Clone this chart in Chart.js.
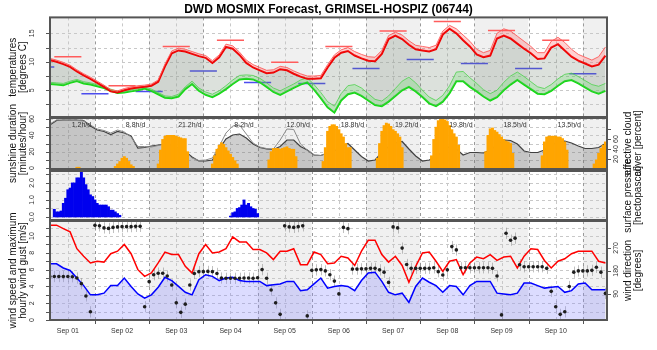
<!DOCTYPE html>
<html>
<head>
<meta charset="utf-8">
<script src="https://cdn.jsdelivr.net/npm/chart.js@4.4.1/dist/chart.umd.min.js"></script>
<style>
  body { margin: 0; background: #fff; }
  #wrap { position: relative; width: 657px; height: 350px; }
  #wrap canvas { position: absolute; left: 0; top: 0; }
</style>
</head>
<body>
<div id="wrap">
  <canvas id="c-temp" width="657" height="350"></canvas>
  <canvas id="c-sun" width="657" height="350"></canvas>
  <canvas id="c-rain" width="657" height="350"></canvas>
  <canvas id="c-wind" width="657" height="350"></canvas>
</div>
<script>
const FONT = '"Liberation Sans", Arial, Helvetica, sans-serif';
Chart.defaults.font.family = FONT;

// time axis: hours after Sep 01 00:00
const hourMin = 4.1;
const hourMax = 250.7;
const dayLabels = ['Sep 01', 'Sep 02', 'Sep 03', 'Sep 04', 'Sep 05', 'Sep 06', 'Sep 07', 'Sep 08', 'Sep 09', 'Sep 10'];

// sample times of the line series (every 3 h) and of wind direction (every 2 h)
const lineHours = [];
for (let h = 4; h <= 250; h += 3) lineHours.push(h);
const dirHours = [];
for (let h = 4; h <= 250; h += 2) dirHours.push(h);

// temperatures [degrees C]
const tempMax = [10.3,10.0,9.6,9.1,8.3,7.6,7.0,6.3,5.6,4.8,
  4.6,5.0,5.3,5.5,5.6,5.8,6.5,9.2,11.5,12.0,
  11.8,11.4,11.0,10.7,9.8,10.8,12.6,12.3,11.2,9.8,
  9.0,8.5,8.0,8.1,8.7,8.5,7.9,7.4,7.0,7.0,
  7.1,9.0,10.7,11.6,11.9,11.1,10.6,10.2,10.1,11.4,
  14.0,14.6,14.0,13.0,12.2,12.0,11.8,12.2,14.8,15.8,
  15.0,13.8,12.7,11.3,10.8,11.1,14.1,14.6,14.1,13.2,
  12.3,11.5,10.5,10.6,12.5,13.1,12.0,10.9,10.2,9.7,
  9.2,9.5,11.1];
const tempMaxHi = [10.6,10.3,9.9,9.4,8.6,7.9,7.3,6.6,5.9,5.1,
  4.9,5.3,5.6,5.8,5.9,6.1,6.8,9.6,11.9,12.4,
  12.2,11.8,11.4,11.1,10.2,11.2,13.1,12.8,11.7,10.3,
  9.5,9.0,8.5,8.6,9.2,9.0,8.4,7.9,7.5,7.5,
  7.6,9.5,11.2,12.1,12.5,11.8,11.3,10.9,10.8,12.0,
  14.6,15.2,14.7,13.7,12.9,12.7,12.5,12.9,15.4,16.4,
  15.8,14.7,13.6,12.2,11.6,12.0,15.0,15.8,15.4,14.5,
  13.6,12.7,11.6,11.6,13.6,14.3,13.4,12.2,11.3,10.8,
  10.3,10.9,12.6];
const tempMin = [6.1,6.0,5.9,6.3,6.6,6.2,6.0,5.7,5.4,4.9,
  4.5,4.6,4.8,5.0,5.3,4.9,4.3,3.7,3.6,3.9,
  5.2,6.1,4.9,4.2,3.8,4.4,5.2,6.1,6.9,7.0,
  6.9,6.4,5.6,4.7,4.2,4.8,5.4,6.0,6.4,5.1,
  3.6,2.0,1.1,3.2,4.3,4.6,4.0,3.2,2.4,2.2,
  3.0,4.0,5.0,5.6,4.8,3.8,2.7,2.2,3.0,4.5,
  6.6,6.6,5.6,4.8,3.9,3.2,3.8,5.0,6.0,6.8,
  6.0,5.2,4.4,4.3,4.9,5.8,6.6,6.8,6.2,5.5,
  4.8,4.4,4.9];
const tempMinHi = [6.4,6.3,6.2,6.6,6.9,6.5,6.3,6.0,5.7,5.2,
  4.8,4.9,5.1,5.3,5.6,5.2,4.6,4.0,3.9,4.3,
  5.6,6.6,5.4,4.7,4.3,4.9,5.8,6.8,7.6,7.7,
  7.6,7.1,6.3,5.4,4.9,5.5,6.1,6.8,7.2,6.0,
  4.6,3.0,2.2,4.4,5.8,6.0,5.4,4.4,3.4,3.1,
  4.0,5.3,6.6,7.3,6.3,5.0,3.8,3.2,4.1,5.8,
  8.2,8.3,7.2,6.2,5.1,4.4,5.0,6.4,7.5,8.2,
  7.4,6.5,5.6,5.3,6.0,7.0,7.8,8.0,7.4,6.7,
  6.0,5.7,6.2];
// daytime maximum (06-18) and night minimum (18-06)
const dayMax = [10.9, 5.8, 12.7, 13.8, 9.9, 12.7, 15.4, 17.1, 15.5, 13.8];
const nightMin = [9.1, 4.4, 4.8, 8.4, 6.35, 6.2, 8.8, 10.4, 9.7, 8.8, 7.9];

// sunshine [minutes/hour], hourly runs starting at sunStart
const sunStart = [16, 33, 52, 76, 101, 125, 149, 173, 197, 222, 245];
const sunRuns = [
  [1, 1],
  [2, 5, 8, 12, 14, 12, 8, 4, 2],
  [5, 22, 35, 39, 40, 40, 40, 40, 39, 38, 37, 36, 36, 20],
  [5, 15, 23, 28, 31, 29, 25, 21, 17, 13, 9, 5],
  [10, 20, 24, 24, 24, 23, 24, 25, 26, 24, 23, 23, 14],
  [8, 25, 45, 51, 53, 53, 51, 47, 42, 38, 30, 25, 25],
  [12, 30, 45, 52, 55, 54, 51, 47, 45, 42, 38, 25],
  [15, 35, 50, 58, 60, 60, 59, 57, 52, 47, 42, 38, 28],
  [20, 40, 48, 49, 46, 44, 41, 38, 35, 33, 32, 30, 18],
  [15, 32, 38, 39, 39, 39, 39, 38, 38, 36, 32, 22],
  [5, 10, 18, 24, 28, 32]
];
const sunDaily = ['1.2h/d', '8.8h/d', '21.2h/d', '8.2h/d', '12.0h/d', '18.8h/d', '19.2h/d', '19.8h/d', '18.5h/d', '13.5h/d'];
// effective cloud cover [percent]
const cloud = [88,97,98,98,98,97,86,78,75,69,
  75,72,66,42,43,46,48,50,48,42,
  35,24,16,16,18,40,60,68,70,62,
  50,43,40,39,45,58,58,45,38,28,
  27,32,36,45,51,38,25,16,18,33,
  45,52,55,40,26,16,18,25,35,45,
  40,28,33,33,32,38,48,58,57,50,
  36,33,33,38,48,55,56,52,46,41,
  41,43,51];
const cloud2 = [90,98,98,98,97,96,88,80,77,72,
  78,74,64,45,45,44,47,50,48,42,
  35,22,17,18,22,45,72,86,88,70,
  52,44,41,40,58,80,79,50,38,28,
  27,32];

// precipitation [mm/h]
const rainStart = [6, 84];
const rainRuns = [
  [0.45,0.3,0.3,0.35,0.8,1.1,1.6,1.7,2.0,2.0,2.3,2.3,2.65,2.3,1.9,1.6,1.3,1.2,1.0,0.8,0.7,0.7,0.7,0.7,0.6,0.4,0.4,0.3,0.2,0.1],
  [0.05,0.25,0.3,0.5,0.55,0.7,1.0,0.7,0.8,0.6,0.5,0.45,0.2]
];

// wind [m/s] and direction [degrees]
const windGust = [11.3,11.3,10.9,10.5,8.5,7.6,6.8,7.0,6.9,7.9,
  8.2,9.0,7.9,6.0,5.2,5.6,6.8,8.1,7.8,7.8,
  6.4,5.6,7.9,9.0,8.0,8.1,8.5,9.9,9.3,9.3,
  8.4,8.4,8.0,7.2,8.2,8.2,8.5,6.6,6.6,8.1,
  7.8,6.7,6.8,7.6,7.4,6.5,8.2,9.5,9.5,7.8,
  6.9,7.6,6.5,4.5,6.4,8.0,8.1,7.0,5.8,7.0,
  7.2,5.4,6.8,7.5,7.3,7.8,7.1,7.5,7.6,6.2,
  7.6,8.5,8.4,7.1,6.2,7.0,7.3,7.9,8.2,8.2,
  8.2,7.0,6.8];
const windSpeed = [6.7,6.7,6.2,5.9,5.0,4.1,3.0,3.0,3.2,4.1,
  4.1,5.0,4.0,3.1,2.6,3.0,3.9,5.1,4.7,4.0,
  3.3,3.0,4.8,5.4,5.2,4.7,5.0,5.1,4.7,4.6,
  4.6,4.6,4.1,4.2,4.3,4.6,4.6,3.5,3.6,4.3,
  5.0,3.8,4.0,4.1,4.0,3.5,4.7,5.6,5.7,4.6,
  3.3,3.0,3.2,2.1,4.0,5.0,4.5,4.1,3.3,4.1,
  4.0,3.0,4.1,4.6,4.6,4.6,3.2,3.1,3.0,3.2,
  4.4,4.4,4.1,3.8,3.9,4.0,3.3,3.5,4.3,4.4,
  3.6,3.6,3.6];
const windDir = [158,158,158,158,158,157,152,130,82,20,
  358,356,348,346,350,352,353,353,353,354,
  354,40,138,165,171,171,160,125,55,18,
  50,125,170,177,177,178,177,170,152,151,
  151,151,151,152,152,151,153,185,151,105,
  55,10,356,352,350,353,356,4,182,184,
  185,180,165,140,90,350,345,187,187,188,
  188,190,190,184,175,135,352,348,269,205,
  190,190,190,190,190,192,177,164,184,275,
  262,192,192,192,192,192,192,192,190,160,
  8,327,300,308,204,196,196,196,196,196,
  190,100,40,10,20,119,175,180,180,180,
  182,194,175,92];

// tick labels
const tempTicks = [5, 10, 15];
const sunTicks = [0, 20, 40, 60];
const rainTicks = [0, 1, 2];
const rainTickText = ['0.0', '1.0', '2.0'];
const windTicks = [0, 2, 4, 6, 8, 10];
const cloudTicks = [20, 40, 60];
const dirTicks = [90, 180, 270];

const pts = (xs, ys) => ys.map((v, i) => ({x: xs[i], y: v}));
const runPts = (starts, runs) => starts.flatMap((s, k) => runs[k].map((v, i) => ({x: s + i, y: v})));
const segPts = (vals, from) => vals.flatMap((v, d) => [
  {x: 24 * d + from, y: v}, {x: 24 * d + from + 12, y: v}, {x: 24 * d + from + 12, y: null}
]);

// per panel decoration settings (grid, ticks, titles)
const decorFor = {
  'c-temp': {grid: [2.5, 5, 7.5, 10, 12.5, 15], ticks: tempTicks, tickText: tempTicks.map(String),
    title: ['temperatures', '[degrees C]']},
  'c-sun': {grid: [0, 10, 20, 30, 40, 50, 60], ticks: sunTicks, tickText: sunTicks.map(String),
    title: ['sunshine duration', '[minutes/hour]'], rAxis: 'yc', rGrid: [20, 40, 60, 80],
    rTicks: cloudTicks, rTitle: ['effective cloud', 'cover [percent]'], dayText: true},
  'c-rain': {grid: [0, 0.5, 1, 1.5, 2, 2.5], ticks: rainTicks, tickText: rainTickText,
    rTitle: ['surface pressure', '[hectopascal]']},
  'c-wind': {grid: [0, 1, 2, 3, 4, 5, 6, 7, 8, 9, 10, 11], ticks: windTicks, tickText: windTicks.map(String),
    title: ['wind speed and maximum', 'hourly wind gust [m/s]'], rAxis: 'yd', rGrid: dirTicks,
    rTicks: dirTicks, rTitle: ['wind direction', '[degrees]'], whiskers: true, xLabels: true}
};

function vText(ctx, text, x, y) {
  ctx.save();
  ctx.translate(x, y);
  ctx.rotate(-Math.PI / 2);
  ctx.fillText(text, 0, 0);
  ctx.restore();
}

const panelDecor = {
  id: 'panelDecor',
  beforeDraw(chart) {
    const cfg = decorFor[chart.canvas.id];
    const {ctx, chartArea: a} = chart;
    const xs = chart.scales.x, ys = chart.scales.y;
    ctx.save();
    ctx.beginPath();
    ctx.rect(a.left, a.top, a.right - a.left, a.bottom - a.top);
    ctx.clip();
    // alternating day background
    for (let d = 0; d <= 10; d++) {
      const x0 = xs.getPixelForValue(d * 24), x1 = xs.getPixelForValue(d * 24 + 24);
      ctx.fillStyle = d % 2 === 0 ? '#f0f0f0' : '#ffffff';
      ctx.fillRect(x0, a.top, x1 - x0, a.bottom - a.top);
    }
    ctx.lineWidth = 1;
    ctx.setLineDash([3, 3]);
    ctx.strokeStyle = '#c8c8c8';
    cfg.grid.forEach(v => {
      const py = Math.round(ys.getPixelForValue(v)) + 0.5;
      ctx.beginPath(); ctx.moveTo(a.left, py); ctx.lineTo(a.right, py); ctx.stroke();
    });
    for (let h = 12; h < 252; h += 12) {
      const px = Math.round(xs.getPixelForValue(h)) + 0.5;
      ctx.strokeStyle = h % 24 === 0 ? '#9a9a9a' : '#c8c8c8';
      ctx.beginPath(); ctx.moveTo(px, a.top); ctx.lineTo(px, a.bottom); ctx.stroke();
    }
    if (cfg.whiskers) {
      const yd = chart.scales.yd;
      ctx.setLineDash([]);
      ctx.strokeStyle = 'rgba(140,140,140,0.55)';
      dirHours.forEach((h, i) => {
        const px = Math.round(xs.getPixelForValue(h)) + 0.5;
        ctx.beginPath();
        ctx.moveTo(px, yd.getPixelForValue(windDir[i] - 22));
        ctx.lineTo(px, yd.getPixelForValue(windDir[i] + 22));
        ctx.stroke();
      });
    }
    ctx.restore();
  },
  afterDraw(chart) {
    const cfg = decorFor[chart.canvas.id];
    const {ctx, chartArea: a} = chart;
    const xs = chart.scales.x, ys = chart.scales.y;
    ctx.save();
    ctx.strokeStyle = '#555';
    ctx.lineWidth = 2;
    ctx.strokeRect(a.left, a.top, a.right - a.left, a.bottom - a.top);

    ctx.lineWidth = 1;
    ctx.strokeStyle = '#555';
    ctx.fillStyle = '#333';
    ctx.font = '7px ' + FONT;
    ctx.textAlign = 'center';
    ctx.textBaseline = 'middle';
    cfg.grid.forEach(v => {
      const py = Math.round(ys.getPixelForValue(v)) + 0.5;
      ctx.beginPath(); ctx.moveTo(a.left - 4, py); ctx.lineTo(a.left, py); ctx.stroke();
    });
    cfg.ticks.forEach((v, i) => vText(ctx, cfg.tickText[i], a.left - 18, ys.getPixelForValue(v)));
    if (cfg.rAxis) {
      const rs = chart.scales[cfg.rAxis];
      cfg.rGrid.forEach(v => {
        const py = Math.round(rs.getPixelForValue(v)) + 0.5;
        ctx.beginPath(); ctx.moveTo(a.right, py); ctx.lineTo(a.right + 4, py); ctx.stroke();
      });
      cfg.rTicks.forEach(v => vText(ctx, String(v), a.right + 9, rs.getPixelForValue(v)));
    }
    if (cfg.dayText) {
      sunDaily.forEach((t, d) => ctx.fillText(t, xs.getPixelForValue(24 * d + 18), a.top + 7));
    }
    if (cfg.xLabels) {
      for (let d = 1; d <= 10; d++) {
        const px = Math.round(xs.getPixelForValue(24 * d)) + 0.5;
        ctx.beginPath(); ctx.moveTo(px, a.bottom); ctx.lineTo(px, a.bottom + 4); ctx.stroke();
      }
      dayLabels.forEach((t, d) => ctx.fillText(t, xs.getPixelForValue(24 * d + 12), a.bottom + 11));
    }
    ctx.font = '10px ' + FONT;
    ctx.fillStyle = '#111';
    const cy = (a.top + a.bottom) / 2;
    if (cfg.title) cfg.title.forEach((t, i) => vText(ctx, t, 13 + i * 10, cy));
    if (cfg.rTitle) cfg.rTitle.forEach((t, i) => vText(ctx, t, a.right + 21 + i * 10, cy));
    ctx.restore();
  }
};

function baseOptions(top, bottom) {
  return {
    animation: false,
    responsive: false,
    devicePixelRatio: 1,
    events: [],
    layout: {padding: {left: 50, right: 50, top: top, bottom: 350 - bottom}},
    elements: {point: {radius: 0}, line: {tension: 0}},
    plugins: {legend: {display: false}, tooltip: {enabled: false}}
  };
}

// temperatures
const tempOpts = baseOptions(0, 117);
tempOpts.plugins.title = {
  display: true, text: 'DWD MOSMIX Forecast, GRIMSEL-HOSPIZ (06744)', color: '#000',
  font: {size: 12, weight: 'bold'}, padding: {top: 2, bottom: 1}
};
tempOpts.scales = {
  x: {type: 'linear', min: hourMin, max: hourMax, display: false},
  y: {min: 0.3, max: 17.8, display: false}
};
new Chart(document.getElementById('c-temp'), {
  type: 'line',
  data: {datasets: [
    {data: pts(lineHours, tempMaxHi), borderColor: 'rgba(255,90,90,0.9)', borderWidth: 1,
      fill: {target: 1, above: 'rgba(255,70,70,0.25)', below: 'rgba(255,70,70,0.25)'}},
    {data: pts(lineHours, tempMax), borderColor: '#ee0000', borderWidth: 2,
      fill: {target: 3, above: 'rgba(110,130,110,0.24)', below: 'rgba(110,130,110,0.24)'}},
    {data: pts(lineHours, tempMinHi), borderColor: 'rgba(70,235,70,0.8)', borderWidth: 1,
      fill: {target: 3, above: 'rgba(90,255,90,0.25)', below: 'rgba(90,255,90,0.25)'}},
    {data: pts(lineHours, tempMin), borderColor: '#11dd11', borderWidth: 2},
    {data: segPts(dayMax, 6), borderColor: '#ff5c5c', borderWidth: 1.5},
    {data: segPts(nightMin, -6), borderColor: '#4c4cee', borderWidth: 1.5}
  ]},
  options: tempOpts,
  plugins: [panelDecor]
});

// sunshine and cloud cover
const sunOpts = baseOptions(118, 169);
sunOpts.scales = {
  x: {type: 'linear', min: hourMin, max: hourMax, offset: false, display: false},
  y: {min: -1.2, max: 61.2, display: false},
  yc: {min: 0, max: 102, position: 'right', display: false}
};
new Chart(document.getElementById('c-sun'), {
  type: 'line',
  data: {datasets: [
    {type: 'bar', data: runPts(sunStart, sunRuns), backgroundColor: '#ffa500', borderWidth: 0,
      barPercentage: 1, categoryPercentage: 1, order: 0},
    {data: pts(lineHours, cloud2), yAxisID: 'yc', borderColor: '#8a8a8a', borderWidth: 1, order: 1},
    {data: pts(lineHours, cloud), yAxisID: 'yc', borderColor: '#404040', borderWidth: 1.2,
      fill: 'start', backgroundColor: 'rgba(110,110,110,0.33)', order: 2}
  ]},
  options: sunOpts,
  plugins: [panelDecor]
});

// precipitation
const rainOpts = baseOptions(171, 220);
rainOpts.scales = {
  x: {type: 'linear', min: hourMin, max: hourMax, offset: false, display: false},
  y: {min: -0.18, max: 2.7, display: false}
};
new Chart(document.getElementById('c-rain'), {
  type: 'bar',
  data: {datasets: [
    {data: runPts(rainStart, rainRuns), backgroundColor: '#0000ee', borderWidth: 0,
      barPercentage: 1, categoryPercentage: 1}
  ]},
  options: rainOpts,
  plugins: [panelDecor]
});

// wind
const windOpts = baseOptions(221, 320);
windOpts.scales = {
  x: {type: 'linear', min: hourMin, max: hourMax, display: false},
  y: {min: 0, max: 11.8, display: false},
  yd: {min: -12, max: 375, position: 'right', display: false}
};
new Chart(document.getElementById('c-wind'), {
  type: 'line',
  data: {datasets: [
    {data: pts(dirHours, windDir), yAxisID: 'yd', showLine: false, pointRadius: 1.8,
      pointBackgroundColor: '#1e1e1e', pointBorderWidth: 0, order: 0},
    {data: pts(lineHours, windGust), borderColor: '#ff0000', borderWidth: 1.5, order: 1},
    {data: pts(lineHours, windSpeed), borderColor: '#0000ff', borderWidth: 1.5,
      fill: 'start', backgroundColor: 'rgba(140,140,255,0.3)', order: 2}
  ]},
  options: windOpts,
  plugins: [panelDecor]
});
</script>
</body>
</html>
